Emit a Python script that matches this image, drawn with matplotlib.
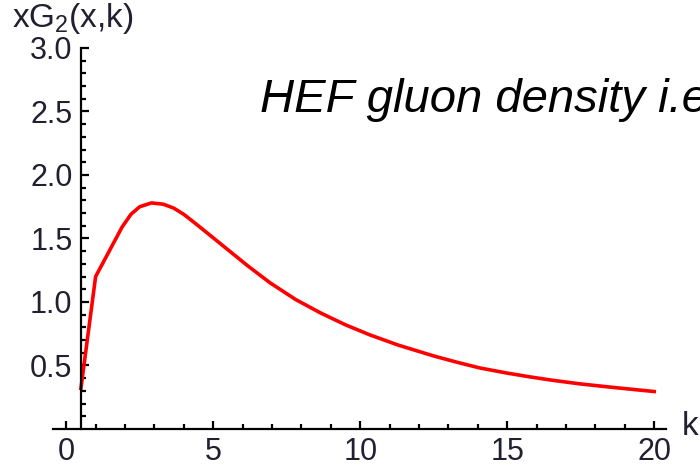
import matplotlib
matplotlib.use("Agg")
import matplotlib.pyplot as plt
import numpy as np

plt.rcParams['font.family'] = ['Liberation Sans', 'DejaVu Sans']
plt.rcParams['mathtext.fontset'] = 'custom'
plt.rcParams['mathtext.rm'] = 'Liberation Sans'
plt.rcParams['mathtext.it'] = 'Liberation Sans:italic'

# curve values
k_vals = [0.5, 1.0, 1.3, 1.6, 1.9, 2.2, 2.5, 2.9, 3.3, 3.65, 4.0, 4.44, 5.24,
          6.2, 6.94, 7.8, 8.64, 9.5, 10.34, 11.3, 12.5, 13.3, 14.08, 15.0,
          15.78, 16.5, 17.48, 18.7, 20.0]
xg2_vals = [0.32, 1.20, 1.33, 1.46, 1.59, 1.69, 1.75, 1.78, 1.77, 1.74, 1.69,
            1.61, 1.46, 1.28, 1.15, 1.02, 0.915, 0.82, 0.74, 0.66, 0.575,
            0.525, 0.48, 0.44, 0.41, 0.385, 0.355, 0.325, 0.295]

x_major = [0, 5, 10, 15, 20]
y_major = [0.5, 1.0, 1.5, 2.0, 2.5, 3.0]

label_col = '#202030'

fig = plt.figure(figsize=(7, 4.69), dpi=100)
ax = fig.add_axes([0.0757, 0.0853, 0.8757, 0.8124])

ax.plot(k_vals, xg2_vals, color='#ff0000', lw=2.6, solid_joinstyle='round')

ax.set_xlim(-0.45, 20.4)
ax.set_ylim(0, 3.0)

# Mathematica-style axes crossing at (0.5, 0)
ax.spines['left'].set_position(('data', 0.5))
ax.spines['bottom'].set_position(('data', 0))
ax.spines['top'].set_visible(False)
ax.spines['right'].set_visible(False)
for s in ['left', 'bottom']:
    ax.spines[s].set_linewidth(1.6)
    ax.spines[s].set_color('black')

ax.set_xticks(x_major)
ax.set_xticks(np.arange(0, 21, 1), minor=True)
ax.set_yticks(y_major)
ax.set_yticks(np.arange(0.1, 3.0, 0.1), minor=True)
ax.set_xticklabels([str(v) for v in x_major])
ax.set_yticklabels(['%.1f' % v for v in y_major])

ax.tick_params(which='major', direction='in', length=6, width=1.6,
               labelsize=22, labelcolor=label_col, color='black')
ax.tick_params(which='minor', direction='in', length=3.5, width=1.6,
               color='black')
ax.tick_params(axis='x', which='major', pad=6)
ax.tick_params(axis='y', which='major', pad=6)

fig.text(12 / 700, 0.942, r'xG$_2$(x,k)', fontsize=24, color=label_col,
         ha='left', va='baseline')
fig.text(682 / 700, 0.0725, 'k', fontsize=24, color=label_col,
         ha='left', va='baseline')

fig.text(260 / 700, 0.761, 'HEF gluon density i.e', fontsize=34,
         style='italic', color='black', ha='left', va='baseline')

fig.savefig('out.png', dpi=100)
